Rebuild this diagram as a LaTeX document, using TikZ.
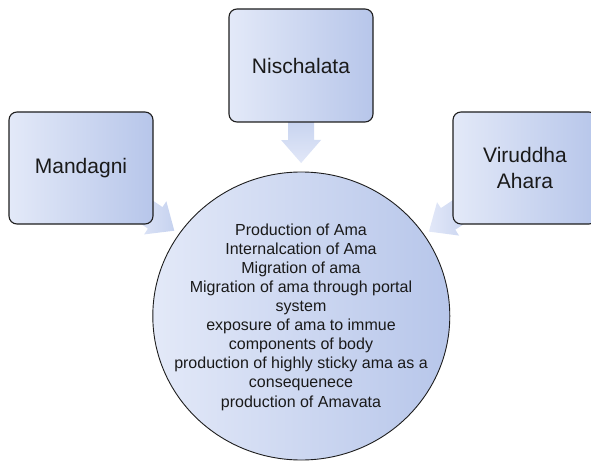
\documentclass[tikz,border=0pt]{standalone}
\usepackage{fontspec}
\setmainfont{Liberation Sans}
\usetikzlibrary{shapes.geometric,calc}
\definecolor{boxL}{HTML}{E3E9F8}
\definecolor{boxR}{HTML}{B7C6EA}
\definecolor{arrL}{HTML}{E2E8F8}
\definecolor{arrR}{HTML}{C6D2EF}
\definecolor{edge}{HTML}{1E1E1E}
\definecolor{ink}{HTML}{1A1A1A}
\pgfdeclarelayer{background}
\pgfsetlayers{background,main}
\begin{document}
\begin{tikzpicture}[x=1pt,y=1pt,
  box/.style={draw=edge, line width=1.1pt, rounded corners=8pt,
    left color=boxL, right color=boxR, minimum width=144pt, minimum height=112pt,
    align=center, text=ink, font=\fontsize{21}{26}\selectfont, inner sep=0pt},
  blob/.style={ellipse, draw=edge, line width=0.9pt, left color=boxL, right color=boxR,
    minimum width=297pt, minimum height=288pt, inner sep=0pt},
  blobtext/.style={align=center, text=ink, font=\fontsize{16}{19.1}\selectfont, inner sep=0pt},
  sideshade/.style={left color=arrL, right color=arrR, draw=none},
  topshade/.style={top color=arrR, bottom color=arrL, draw=none}]
\useasboundingbox (0,0) rectangle (591,461);
\clip (0,0) rectangle (591,461);
\node[box] (m) at (81,293) {Mandagni};
\node[box, minimum height=113pt] (n) at (301,395.5) {Nischalata};
\node[box] (v) at (525,293) {Viruddha\\Ahara};
\node[blob] (c) at (301.3,145) {};
\node[blobtext] (t) at (301,144) {Production of Ama\\Internalcation of Ama\\Migration of ama\\Migration of ama through portal\\system\\exposure of ama to immue\\components of body\\production of highly sticky ama as a\\consequenece\\production of Amavata};
\begin{pgfonlayer}{background}
\foreach \s/\sh in {m/sideshade, v/sideshade, n/topshade}{
  \coordinate (T\s) at ($(c.center)!153pt!(\s.center)$);
  \coordinate (H\s) at ($(c.center)!176pt!(\s.center)$);
  \coordinate (E\s) at ($(c.center)!197pt!(\s.center)$);
  \path[\sh] (T\s) -- ($(H\s)!20pt!90:(\s.center)$) -- ($(H\s)!13pt!90:(\s.center)$)
    -- ($(E\s)!13pt!90:(\s.center)$) -- ($(E\s)!13pt!-90:(\s.center)$)
    -- ($(H\s)!13pt!-90:(\s.center)$) -- ($(H\s)!20pt!-90:(\s.center)$) -- cycle;
}
\end{pgfonlayer}
\end{tikzpicture}
\end{document}
